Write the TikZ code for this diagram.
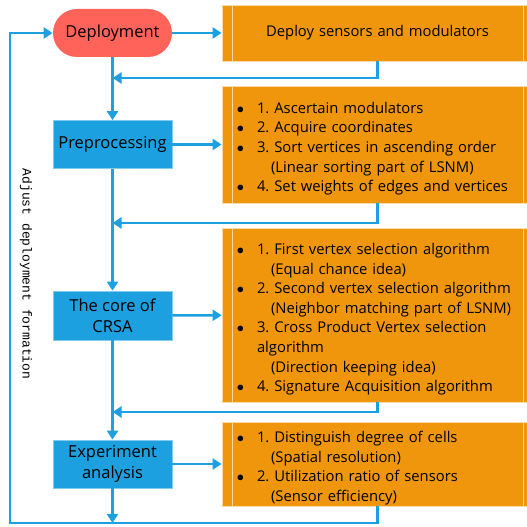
\documentclass[tikz,border=0pt]{standalone}
\usepackage{fontspec}
\setmainfont{Open Sans}
\newfontfamily\notefont{Liberation Mono}
\usepackage{enumitem}
\usetikzlibrary{arrows.meta}

\definecolor{flowblue}{RGB}{28,160,224}
\definecolor{startred}{RGB}{255,99,90}
\definecolor{stepgold}{RGB}{240,150,12}
\definecolor{stepedge}{RGB}{250,218,170}

\newcommand{\steplist}[1]{%
  \begin{itemize}[label=$\bullet$,leftmargin=23pt,labelsep=13pt,itemsep=0pt,parsep=0pt,topsep=0pt,partopsep=0pt]
  #1
  \end{itemize}\vspace*{-4pt}}

\frenchspacing

\begin{document}
\begin{tikzpicture}[x=1pt,y=-1pt]

    \tikzset{
      stage/.style={
        draw=flowblue!55!white,
        fill=flowblue,
        line width=0.8pt,
        minimum width=119pt,
        minimum height=48pt,
        inner sep=0pt,
        align=center,
        font=\fontsize{16.5}{21}\selectfont,
      },
      start/.style={
        stage,
        draw=none,
        fill=startred,
        rounded corners=24pt,
      },
      detail/.style={
        draw=stepedge,
        fill=stepgold,
        line width=0.8pt,
        minimum width=311pt,
        text width=287pt,
        inner sep=0pt,
        font=\fontsize{14.8}{19.6}\selectfont,
        path picture={
          \draw[stepedge,line width=0.8pt]
            ([xshift=10pt]path picture bounding box.north west) --
            ([xshift=10pt]path picture bounding box.south west);
          \draw[stepedge,line width=0.8pt]
            ([xshift=-10pt]path picture bounding box.north east) --
            ([xshift=-10pt]path picture bounding box.south east);
        },
      },
      flow/.style={
        draw=flowblue,
        line width=2.4pt,
        -{Triangle[length=9pt,width=11pt]},
      },
    }
    \clip (0,0) rectangle (527,527);

    \node[start] (dep) at (112.5,33) {Deployment};
    \node[stage] (prep) at (112.5,144.5) {Preprocessing};
    \node[stage,minimum height=49pt] (core) at (112.5,315.5) {The core of\\CRSA};
    \node[stage] (exper) at (112.5,464) {Experiment\\analysis};

    \node[detail,minimum height=56pt,align=center] (ob1) at (377.5,33) {Deploy sensors and modulators};
    \node[detail,minimum height=117pt] (ob2) at (377.5,144.5) {\steplist{
      \item 1. Ascertain modulators
      \item 2. Acquire coordinates
      \item 3. Sort vertices in ascending order\\\hspace*{14pt}(Linear sorting part of LSNM)
      \item 4. Set weights of edges and vertices}};
    \node[detail,minimum height=174pt] (ob3) at (377.5,315) {\steplist{
      \item 1. First vertex selection algorithm\\\hspace*{14pt}(Equal chance idea)
      \item 2. Second vertex selection algorithm\\\hspace*{14pt}(Neighbor matching part of LSNM)
      \item 3. Cross Product Vertex selection\\algorithm\\\hspace*{14pt}(Direction keeping idea)
      \item 4. Signature Acquisition algorithm}};
    \node[detail,minimum height=84pt] (ob4) at (377.5,464) {\steplist{
      \item 1. Distinguish degree of cells\\\hspace*{14pt}(Spatial resolution)
      \item 2. Utilization ratio of sensors\\\hspace*{14pt}(Sensor efficiency)}};

    \node[rotate=-90,font=\notefont\fontsize{13}{13}\selectfont] (note) at (26,274) {Adjust deployment formation};

    \coordinate (join1) at (112.5,78);
    \coordinate (join2) at (112.5,223);
    \coordinate (join3) at (112.5,412);
    \coordinate (sink) at (112.5,523);
    \coordinate (back) at (10,523);

    \draw[flow] (dep) -- (ob1);
    \draw[flow] (prep) -- (ob2);
    \draw[flow] (core) -- (ob3);
    \draw[flow] (exper) -- (ob4);

    \draw[flow] (dep) -- (prep);
    \draw[flow] (prep) -- (core);
    \draw[flow] (core) -- (exper);
    \draw[flow] (exper) -- (sink);

    \draw[flow] (ob1.south) |- (join1);
    \draw[flow] (ob2.south) |- (join2);
    \draw[flow] (ob3.south) |- (join3);
    \draw[flow] (ob4.south) |- (back) |- (dep);

\end{tikzpicture}
\end{document}
